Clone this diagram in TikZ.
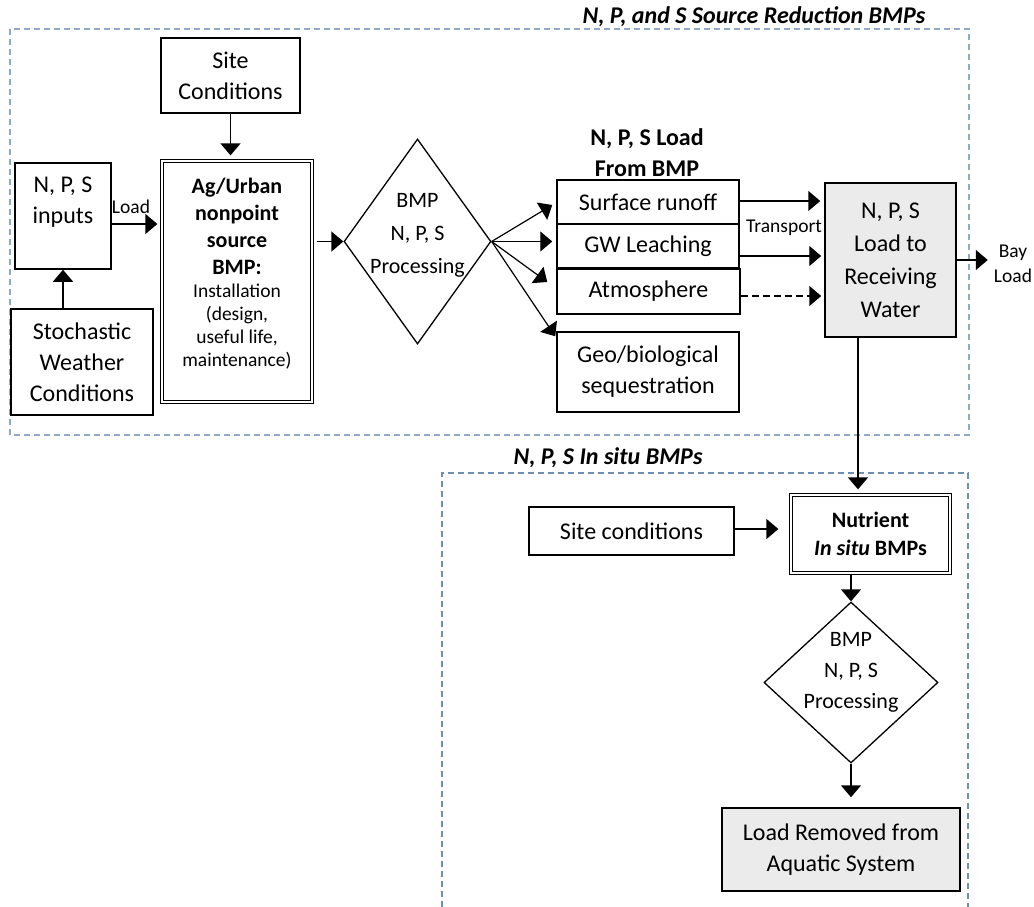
\documentclass[tikz,border=0pt]{standalone}
\usepackage{fontspec}
\setmainfont{Carlito}
\usetikzlibrary{arrows.meta,shapes.geometric,calc}
\definecolor{framea}{HTML}{8FAAC8}
\definecolor{frameb}{HTML}{6E8FB5}
\definecolor{boxgray}{HTML}{EBEBEB}
\newcommand\fmain{\fontsize{24}{31}\selectfont}
\newcommand\frecv{\fontsize{24}{33}\selectfont}
\newcommand\fdia{\fontsize{22}{33}\selectfont}
\newcommand\fdiab{\fontsize{22}{31}\selectfont}
\newcommand\fsmall{\fontsize{19.5}{23}\selectfont}
\newcommand\fbay{\fontsize{19.5}{25}\selectfont}
\newcommand\fbld{\fontsize{22}{27}\selectfont\bfseries}
\newcommand\fhead{\fontsize{24}{31}\selectfont\bfseries}
\newcommand\fnut{\fontsize{22}{28}\selectfont\bfseries}
\newcommand\ftitle{\fontsize{24}{26}\selectfont\bfseries\itshape}
\begin{document}
\begin{tikzpicture}[x=1pt,y=-1pt,font=\fmain,
  txt/.style={align=center,inner sep=0pt},
  box/.style={draw,line width=1.5pt,inner sep=0pt,align=center},
  gbox/.style={box,fill=boxgray},
  dbox/.style={draw,double,double distance=1.5pt,line width=1.3pt,inner sep=0pt,align=center},
  dia/.style={draw,diamond,line width=1.3pt,inner sep=0pt},
  arr/.style={-{Triangle[length=12pt,width=20pt]},line width=1.5pt},
  frame/.style={dash pattern=on 6pt off 4pt,line width=1.3pt}
]
\useasboundingbox (0,0) rectangle (1034,907);

% frames
\draw[frame,draw=framea] (10,29) rectangle (969,435);
\draw[frame,draw=frameb] (442,907) -- (442,473) -- (968,473) -- (968,907);
\node[txt,font=\ftitle] (title1) at (754,17) {N, P, and S Source Reduction BMPs};
\node[txt,font=\ftitle] (title2) at (608,458) {N, P, S In situ BMPs};

% upper part
\node[box,minimum width=139pt,minimum height=75pt] (site1) at (230.5,75.5) {Site\\Conditions};
\node[box,minimum width=96pt,minimum height=106pt] (inputs) at (63,216) {};
\node[txt] (inputstxt) at (63,202) {N, P, S\\inputs};
\node[box,minimum width=142pt,minimum height=106pt] (weather) at (82,362) {Stochastic\\Weather\\Conditions};
\node[dbox,minimum width=150pt,minimum height=241pt] (agbox) at (237,281.5) {};
\node[txt,font=\fbld] (agtxt) at (237,226) {Ag/Urban\\nonpoint\\source\\BMP:};
\node[txt,font=\fsmall] (agsub) at (237,327) {Installation\\(design,\\useful life,\\maintenance)};
\node[dia,minimum width=147pt,minimum height=205pt] (d1) at (417.5,241.5) {};
\node[txt,font=\fdia] (d1txt) at (417.5,235) {BMP\\N, P, S\\Processing};
\node[txt,font=\fhead] (loadhdr) at (647,152.5) {N, P, S Load\\From BMP};
\node[box,minimum width=182pt,minimum height=44pt] (surf) at (648,202) {Surface runoff};
\node[box,minimum width=182pt,minimum height=44pt] (gw) at (648,246) {GW Leaching};
\node[box,minimum width=183pt,minimum height=45pt] (atm) at (648.5,291.5) {Atmosphere};
\node[box,minimum width=182pt,minimum height=80pt] (geo) at (648,372) {Geo/biological\\sequestration};
\node[gbox,minimum width=131pt,minimum height=154pt,font=\frecv] (recv) at (890.5,260) {N, P, S\\Load to\\Receiving\\Water};
\node[txt,font=\fsmall] (load) at (131,207) {Load};
\node[txt,font=\fsmall] (transport) at (784,228) {Transport};
\node[txt,font=\fbay] (bay) at (1013,263.5) {Bay\\Load};

% lower part
\node[box,minimum width=205pt,minimum height=48pt] (site2) at (631.5,531) {Site conditions};
\node[dbox,minimum width=159pt,minimum height=78pt,font=\fnut] (nut) at (870.5,534) {Nutrient\\\textit{In situ} BMPs};
\node[dia,minimum width=174pt,minimum height=161pt] (d2) at (851,682.5) {};
\node[txt,font=\fdiab] (d2txt) at (851,672) {BMP\\N, P, S\\Processing};
\node[gbox,minimum width=238pt,minimum height=83pt] (removed) at (841,849.5) {Load Removed from\\Aquatic System};

% connectors
\draw[arr,shorten >=5pt] (site1.south) -- (site1.south |- agbox.north);
\draw[arr] (inputs |- weather.north) -- (inputs.south);
\draw[arr,shorten >=4pt] ([yshift=-8pt]inputs.east) -- ([yshift=-8pt]inputs.east -| agbox.west);
\draw[arr] ([xshift=4pt]agbox.east |- d1.west) -- (d1.west);
\draw[arr,line width=1.2pt] (d1.east) -- ([xshift=-4pt,yshift=-3pt]surf.west);
\draw[arr,line width=1.2pt] (d1.east) -- ([xshift=-4pt]d1.east -| gw.west);
\draw[arr,line width=1.2pt] (d1.east) -- ([xshift=-9pt,yshift=9.5pt]atm.west);
\draw[arr,line width=1.2pt] (d1.east) -- ([xshift=-1pt,yshift=-5pt]geo.north west);
\draw[arr,shorten >=4pt] ([yshift=1pt]surf.east) -- ([yshift=1pt]surf.east -| recv.west);
\draw[arr,line width=1.2pt,shorten >=3pt] ([yshift=-10pt]gw.east) -- ([yshift=-10pt]gw.east -| recv.west);
\draw[arr,dash pattern=on 7pt off 4pt,shorten >=3pt] ([yshift=-4.5pt]atm.east) -- ([yshift=-4.5pt]atm.east -| recv.west);
\draw[arr,shorten >=6pt] (recv.east) -- (recv.east -| bay.west);
\draw[arr,shorten >=5pt] ([xshift=-32.5pt]recv.south) -- ([xshift=-32.5pt]recv.south |- nut.north);
\draw[arr,shorten >=12pt] ([yshift=2pt]site2.east) -- ([yshift=2pt]site2.east -| nut.west);
\draw[arr] (d2.north |- nut.south) -- (d2.north);
\draw[arr,shorten >=10pt] (d2.south) -- (d2.south |- removed.north);
\end{tikzpicture}
\end{document}
